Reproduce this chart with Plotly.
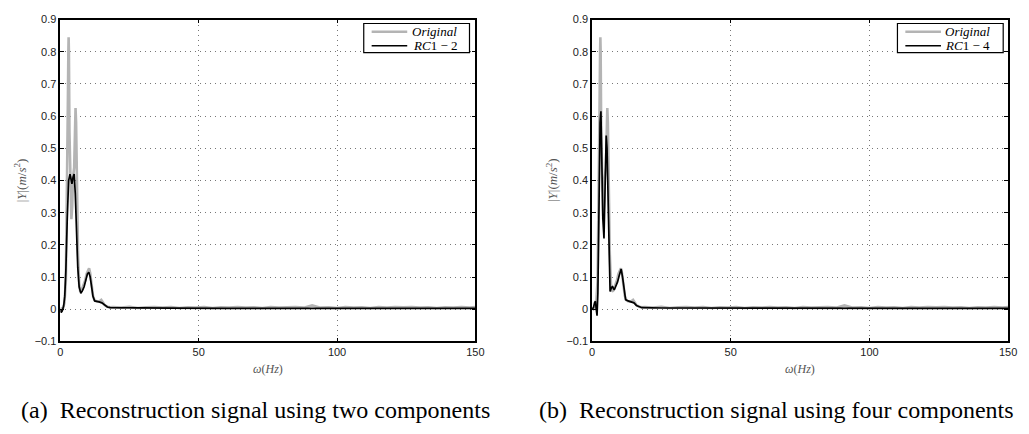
import plotly.graph_objects as go

# ---------------- data ----------------
orig_freq = [0, 0.5, 1.0, 1.5, 2.0, 2.4, 2.7, 2.9, 3.0, 3.1, 3.3, 3.6, 4.0, 4.3, 4.6, 5.0, 5.3, 5.5, 5.7, 6.0,
             6.4, 6.8, 7.2, 7.6, 8.0, 8.5, 9.0, 9.5, 10.0, 10.4, 10.8, 11.3, 11.8, 12.3, 13.0, 14.0, 14.8, 15.3,
             16.0, 17.0, 18.0,
             19, 22, 25, 28, 31, 34, 37, 40, 43, 46, 49, 52, 55, 58, 61, 64, 67, 70, 73, 76, 79, 82, 85, 88,
             91, 94, 97, 100, 103, 106, 109, 112, 115, 118, 121, 124, 127, 130, 133, 136, 139, 142, 145, 148, 150]
orig_amp = [0.005, 0.0, 0.004, 0.02, 0.09, 0.32, 0.62, 0.80, 0.845, 0.80, 0.55, 0.40, 0.28, 0.32, 0.41, 0.44, 0.56, 0.625, 0.58, 0.38,
            0.17, 0.08, 0.055, 0.058, 0.066, 0.076, 0.09, 0.11, 0.122, 0.127, 0.112, 0.072, 0.042, 0.029, 0.025, 0.024, 0.029, 0.023,
            0.013, 0.008, 0.006,
            0.007, 0.005, 0.008, 0.004, 0.006, 0.007, 0.005, 0.007, 0.004, 0.006, 0.005, 0.007, 0.004, 0.006, 0.005, 0.007, 0.005, 0.006, 0.004, 0.007, 0.005, 0.006, 0.007, 0.005,
            0.012, 0.005, 0.006, 0.004, 0.007, 0.005, 0.006, 0.004, 0.007, 0.005, 0.007, 0.006, 0.007, 0.005, 0.006, 0.004, 0.006, 0.005, 0.007, 0.005, 0.007]

rc12_freq = [0, 0.3, 0.7, 1.2, 1.6, 2.0, 2.5, 3.0, 3.5, 3.9, 4.2, 4.6, 5.0, 5.4, 5.8, 6.3, 6.8, 7.4, 8.0, 8.6,
             9.2, 9.8, 10.3, 10.8, 11.3, 11.8, 12.4, 13.0, 14.0, 15.0, 16.0, 17.0, 18.0,
             25, 40, 60, 80, 100, 120, 140, 150]
rc12_amp = [0.0, -0.01, -0.005, 0.01, 0.04, 0.12, 0.28, 0.40, 0.42, 0.395, 0.39, 0.41, 0.42, 0.36, 0.25, 0.13, 0.07, 0.05, 0.058, 0.07,
            0.09, 0.11, 0.115, 0.10, 0.07, 0.04, 0.026, 0.024, 0.023, 0.02, 0.012, 0.007, 0.005,
            0.004, 0.0035, 0.003, 0.003, 0.003, 0.003, 0.003, 0.003]

rc14_freq = [0, 0.5, 0.9, 1.2, 1.5, 1.8, 2.1, 2.5, 2.9, 3.2, 3.5, 3.9, 4.3, 4.7, 5.1, 5.4, 5.8, 6.2, 6.5, 7.0,
             7.4, 8.0, 8.6, 9.2, 9.8, 10.5, 11.0, 11.5, 12.1, 13.0, 14.0, 15.1, 16.0, 17.0, 18.0,
             25, 40, 60, 80, 100, 120, 140, 150]
rc14_amp = [0.0, 0.005, 0.02, 0.025, 0.0, -0.02, 0.05, 0.35, 0.58, 0.615, 0.45, 0.28, 0.22, 0.40, 0.54, 0.50, 0.30, 0.12, 0.055, 0.068,
            0.07, 0.06, 0.07, 0.085, 0.105, 0.125, 0.10, 0.06, 0.03, 0.026, 0.024, 0.02, 0.012, 0.008, 0.005,
            0.004, 0.0035, 0.003, 0.003, 0.003, 0.003, 0.003, 0.003]

x_ticks = [0, 50, 100, 150]
y_ticks = [-0.1, 0, 0.1, 0.2, 0.3, 0.4, 0.5, 0.6, 0.7, 0.8, 0.9]
y_ticktext = ["\u22120.1", "0", "0.1", "0.2", "0.3", "0.4", "0.5", "0.6", "0.7", "0.8", "0.9"]
captions = ["(a)\u00a0\u00a0Reconstruction signal using two components",
            "(b)\u00a0\u00a0Reconstruction signal using four components"]
legend_names = [["<i>Original</i>", "<i>RC</i>1 \u2212 2"], ["<i>Original</i>", "<i>RC</i>1 \u2212 4"]]

# ---------------- figure ----------------
W, H = 1029, 434
GRAY = "#b4b4b4"

fig = go.Figure()
series = [(rc12_freq, rc12_amp), (rc14_freq, rc14_amp)]
for i in range(2):
    ax = "" if i == 0 else "2"
    fig.add_trace(go.Scatter(x=orig_freq, y=orig_amp, mode="lines", name=legend_names[i][0],
                             line=dict(color=GRAY, width=2.6), xaxis="x" + ax, yaxis="y" + ax,
                             showlegend=False))
    fig.add_trace(go.Scatter(x=series[i][0], y=series[i][1], mode="lines", name=legend_names[i][1],
                             line=dict(color="black", width=1.7), xaxis="x" + ax, yaxis="y" + ax,
                             showlegend=False))


def px_x(p):
    return p / W


def px_y(p):
    return (H - p) / H


x_domains = [[px_x(58), px_x(478)], [px_x(596), px_x(1017)]]
y_domain = [px_y(345), px_y(14)]

common_axis = dict(showline=True, linecolor="black", linewidth=1.5, mirror="ticks",
                   ticks="inside", ticklen=4, tickcolor="black", tickwidth=1,
                   showgrid=True, gridcolor="#777", gridwidth=1, griddash="1px,4px",
                   zeroline=False, tickfont=dict(family="Liberation Sans", size=11, color="#222"))

layout_axes = {}
for i in range(2):
    s = "" if i == 0 else "2"
    layout_axes["xaxis" + s] = dict(common_axis, domain=x_domains[i], range=[0, 150],
                                    tickvals=x_ticks, anchor="y" + s)
    layout_axes["yaxis" + s] = dict(common_axis, domain=y_domain, range=[-0.1, 0.9],
                                    tickvals=y_ticks, ticktext=y_ticktext, anchor="x" + s)

annotations = []
shapes = []
legend_right = [472, 1012]
for i in range(2):
    x0, x1 = x_domains[i]
    xc = (x0 + x1) / 2
    annotations.append(dict(text="<i>\u03c9</i>(<i>Hz</i>)", x=xc, y=px_y(373), xref="paper", yref="paper",
                            showarrow=False, xanchor="center", yanchor="middle",
                            font=dict(family="Liberation Serif", size=12, color="#555")))
    annotations.append(dict(text="|<i>Y</i>|(<i>m</i>/<i>s</i><sup>2</sup>)", x=px_x(17 if i == 0 else 555),
                            y=(y_domain[0] + y_domain[1]) / 2, xref="paper", yref="paper",
                            showarrow=False, textangle=-90, xanchor="center", yanchor="middle",
                            font=dict(family="Liberation Serif", size=13, color="#555")))
    annotations.append(dict(text=captions[i], x=px_x(255 if i == 0 else 783), y=px_y(416),
                            xref="paper", yref="paper", showarrow=False, xanchor="center", yanchor="middle",
                            font=dict(family="Liberation Serif", size=24, color="black")))
    # legend box drawn by hand (compact, like the reference)
    r = legend_right[i]
    shapes.append(dict(type="rect", xref="paper", yref="paper", x0=px_x(r - 107), x1=px_x(r),
                       y0=px_y(48), y1=px_y(18), line=dict(color="black", width=1.2), fillcolor="white",
                       layer="above"))
    rows = [(26.5, GRAY, 2.6), (41, "black", 1.5)]
    for k, (yy, col, wd) in enumerate(rows):
        shapes.append(dict(type="line", xref="paper", yref="paper", x0=px_x(r - 99), x1=px_x(r - 63),
                           y0=px_y(yy), y1=px_y(yy), line=dict(color=col, width=wd), layer="above"))
        annotations.append(dict(text=legend_names[i][k], x=px_x(r - 11), y=px_y(yy), xref="paper", yref="paper",
                                showarrow=False, xanchor="right", yanchor="middle",
                                font=dict(family="Liberation Serif", size=13, color="black")))

fig.update_layout(
    width=W, height=H, margin=dict(l=0, r=0, t=0, b=0),
    paper_bgcolor="white", plot_bgcolor="white",
    showlegend=False,
    annotations=annotations,
    shapes=shapes,
    **layout_axes,
)

fig.write_html("out.html", config={"displayModeBar": False},
               post_script="document.body.style.margin='0';")
